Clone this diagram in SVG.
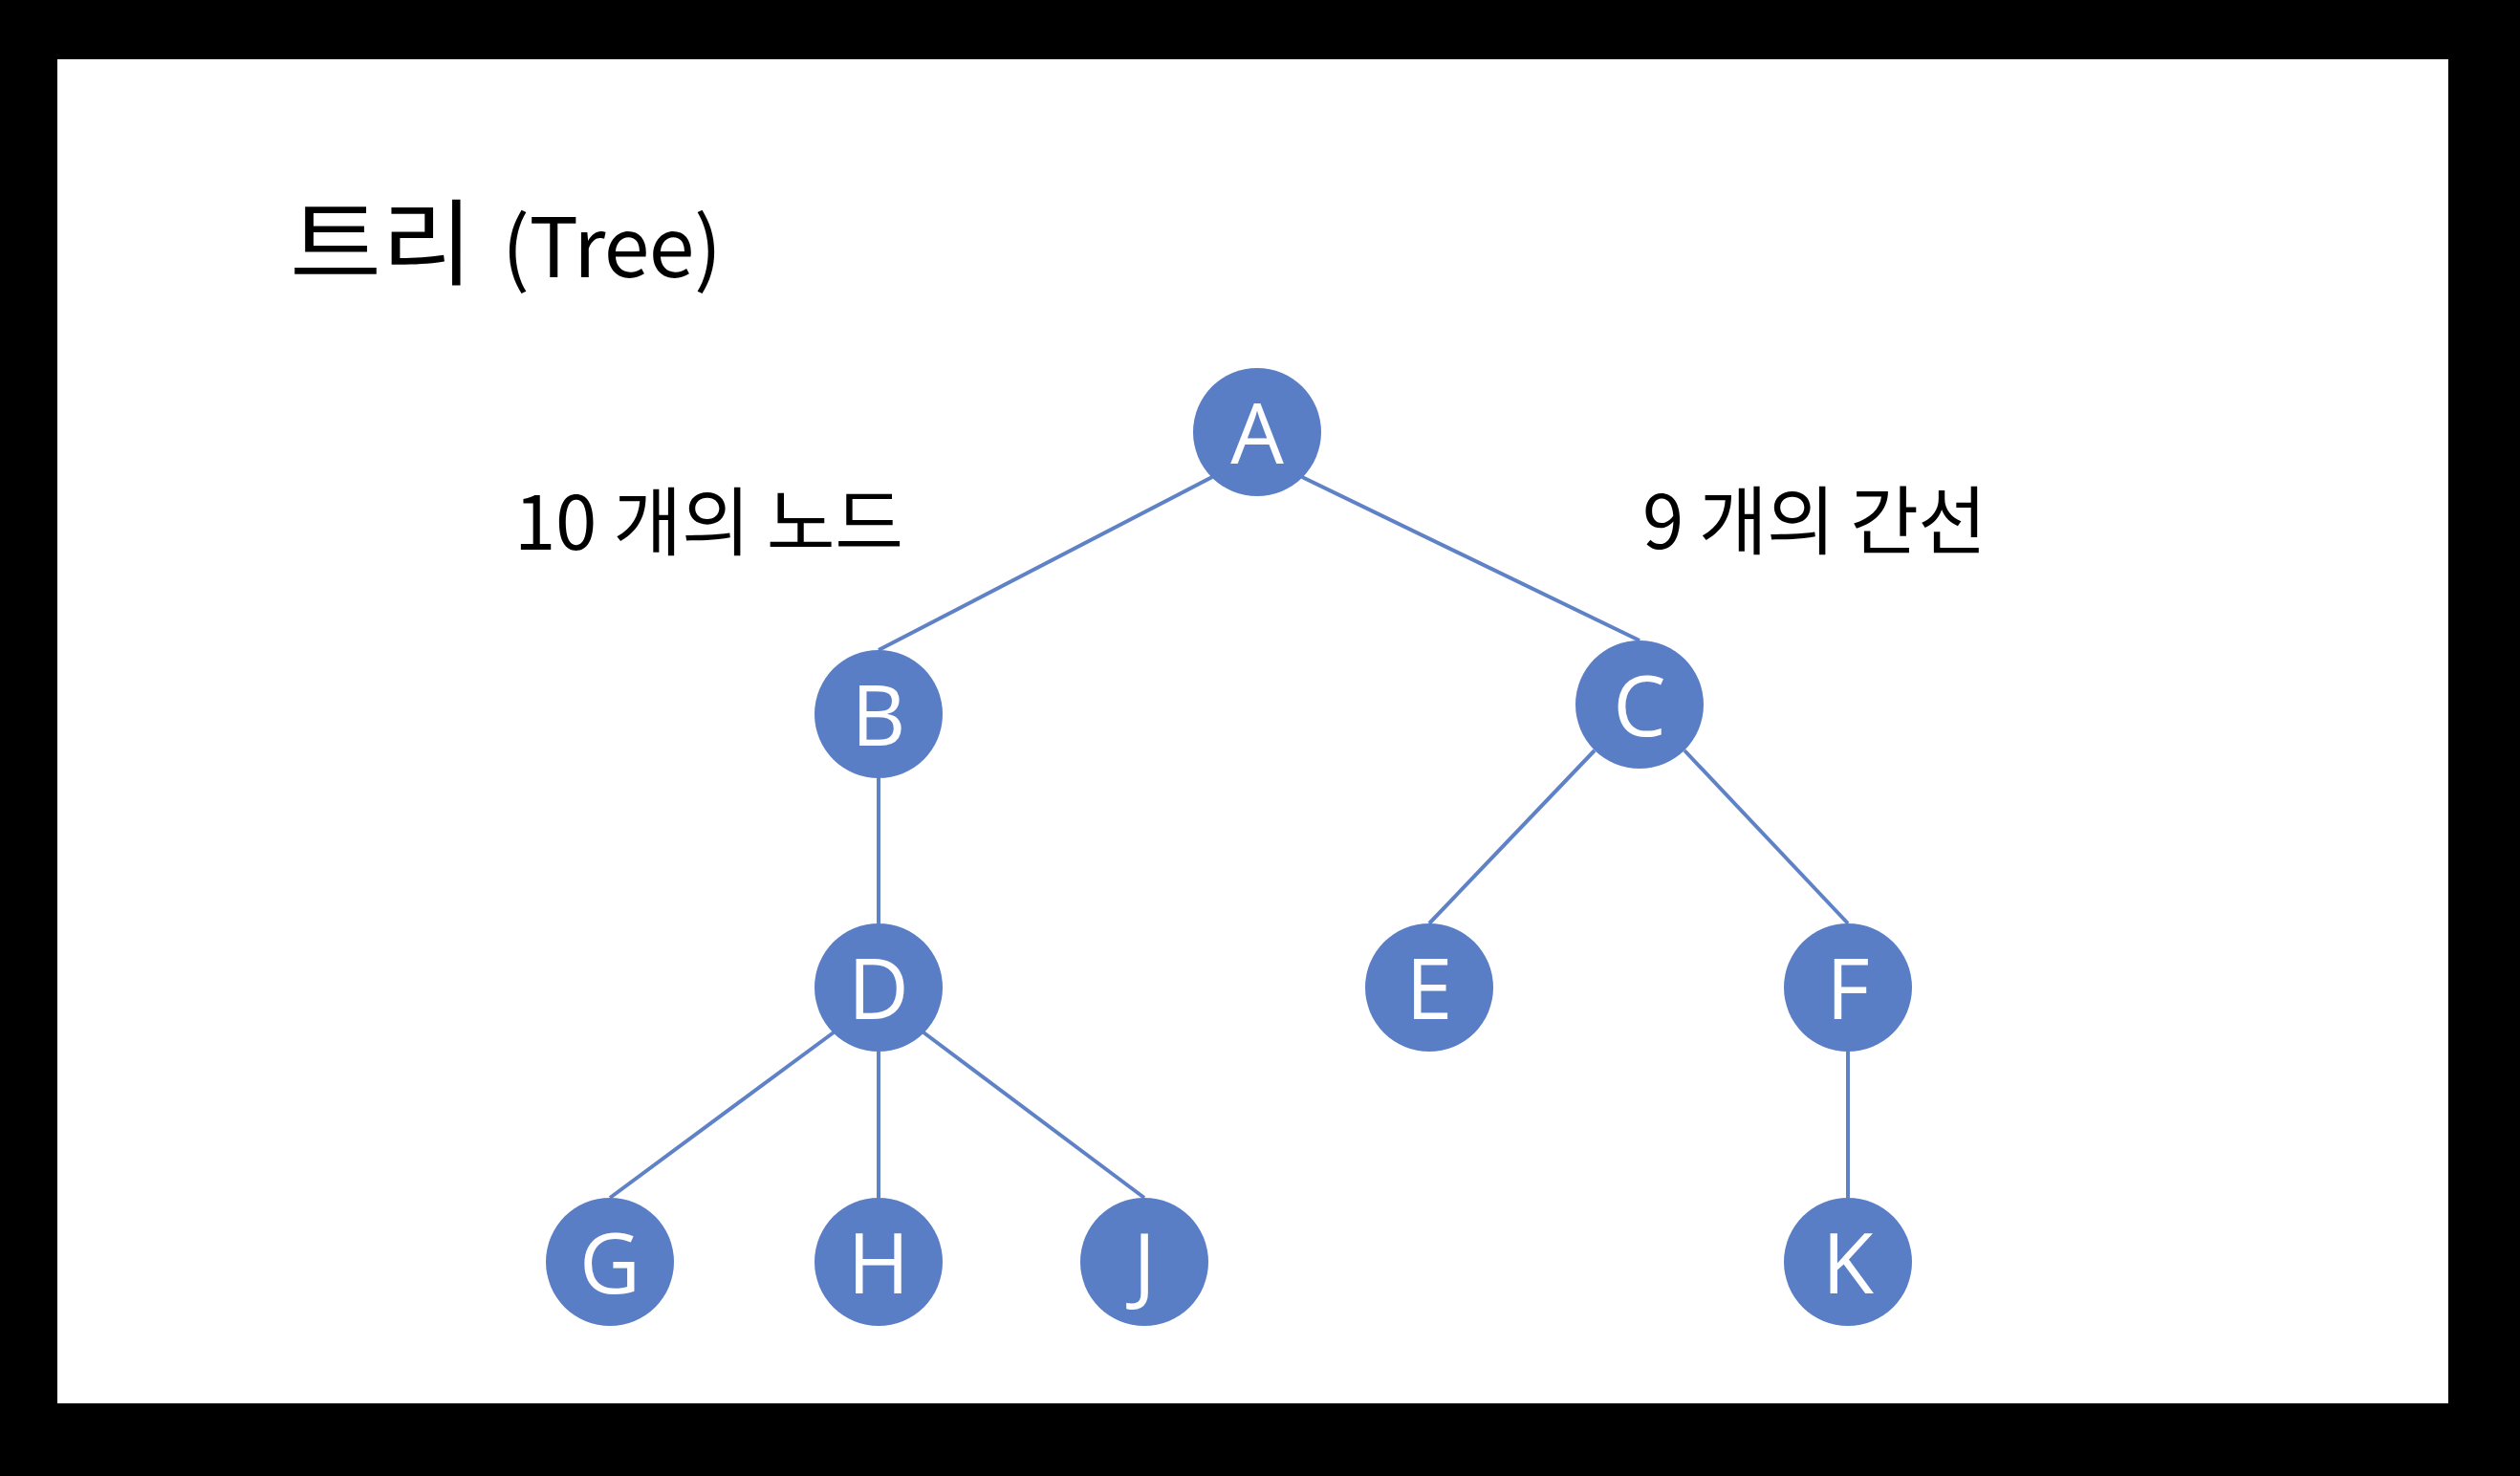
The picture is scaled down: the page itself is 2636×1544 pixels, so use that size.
<svg xmlns="http://www.w3.org/2000/svg" width="2636" height="1544" viewBox="0 0 2636 1544">
<style>
.node{fill:#5a7ec5}
.lbl{fill:#ffffff;font-family:"Open Sans","Noto Sans",sans-serif;font-size:88px;text-anchor:middle}
.edge{stroke:#5f82c7;stroke-width:4;fill:none}
.txt{fill:#000000;font-family:"Noto Sans CJK KR","Noto Sans",sans-serif}
</style>
<rect x="0" y="0" width="2636" height="1544" fill="#000000"/>
<rect x="60" y="62" width="2501" height="1406" fill="#ffffff"/>
<text class="txt" x="303" y="290" font-size="98" textLength="192" lengthAdjust="spacingAndGlyphs">트리</text>
<text class="txt" x="525" y="290" font-size="86" textLength="230">(Tree)</text>
<text class="txt" x="538" y="575" font-size="78" textLength="407">10 개의 노드</text>
<text class="txt" x="1718" y="574" font-size="78" textLength="360">9 개의 간선</text>
<g id="edges">
<line class="edge" x1="1268" y1="499" x2="919" y2="680"/>
<line class="edge" x1="1362" y1="499" x2="1715" y2="670"/>
<line class="edge" x1="919" y1="814" x2="919" y2="966"/>
<line class="edge" x1="1668" y1="785" x2="1495" y2="966"/>
<line class="edge" x1="1762" y1="785" x2="1933" y2="966"/>
<line class="edge" x1="872" y1="1080" x2="638" y2="1253"/>
<line class="edge" x1="919" y1="1100" x2="919" y2="1253"/>
<line class="edge" x1="966" y1="1080" x2="1197" y2="1253"/>
<line class="edge" x1="1933" y1="1100" x2="1933" y2="1253"/>
</g>
<g id="node-A"><circle class="node" cx="1315" cy="452" r="67"/><text class="lbl" x="1315" y="485">A</text></g>
<g id="node-B"><circle class="node" cx="919" cy="747" r="67"/><text class="lbl" x="919" y="780">B</text></g>
<g id="node-C"><circle class="node" cx="1715" cy="737" r="67"/><text class="lbl" x="1715" y="770">C</text></g>
<g id="node-D"><circle class="node" cx="919" cy="1033" r="67"/><text class="lbl" x="919" y="1066">D</text></g>
<g id="node-E"><circle class="node" cx="1495" cy="1033" r="67"/><text class="lbl" x="1495" y="1066">E</text></g>
<g id="node-F"><circle class="node" cx="1933" cy="1033" r="67"/><text class="lbl" x="1933" y="1066">F</text></g>
<g id="node-G"><circle class="node" cx="638" cy="1320" r="67"/><text class="lbl" x="638" y="1353">G</text></g>
<g id="node-H"><circle class="node" cx="919" cy="1320" r="67"/><text class="lbl" x="919" y="1353">H</text></g>
<g id="node-J"><circle class="node" cx="1197" cy="1320" r="67"/><text class="lbl" x="1197" y="1353">J</text></g>
<g id="node-K"><circle class="node" cx="1933" cy="1320" r="67"/><text class="lbl" x="1933" y="1353">K</text></g>
</svg>
